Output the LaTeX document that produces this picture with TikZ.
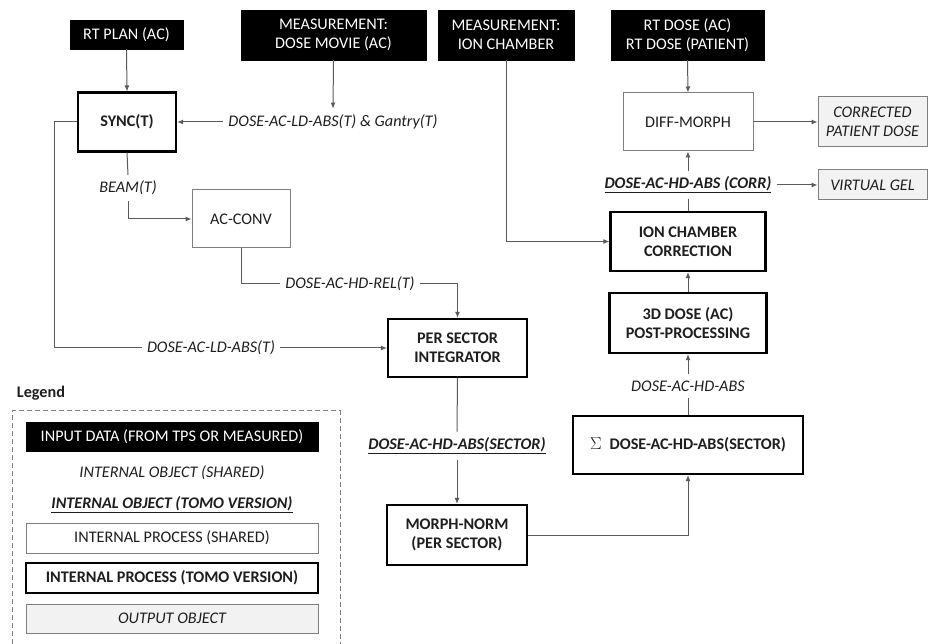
\documentclass[tikz,border=0pt]{standalone}
\usepackage{fontspec}
\setmainfont{Carlito}
\usetikzlibrary{arrows.meta}
\definecolor{txt}{HTML}{1E1E1E}
\definecolor{ln}{HTML}{5A5A5A}
\definecolor{bx}{HTML}{7F7F7F}
\definecolor{outfill}{HTML}{F2F2F2}
\newcommand{\fsz}{\fontsize{16.2}{19}\selectfont}
\tikzset{
  base/.style={font=\fsz, text=txt, align=center, inner sep=0pt},
  inputbox/.style={base, fill=black, draw=black, text=white},
  sharedbox/.style={base, draw=bx, line width=1pt, fill=white},
  tomobox/.style={base, draw=black, line width=2.2pt, fill=white, font=\fsz\bfseries},
  outbox/.style={base, draw=bx, line width=1pt, fill=outfill, font=\fsz\itshape},
  objlab/.style={base, font=\fsz\itshape, inner xsep=5pt, inner ysep=6pt},
  tobjlab/.style={base, font=\fsz\itshape\bfseries, inner xsep=5pt, inner ysep=6pt},
  conn/.style={draw=ln, line width=1pt},
  arr/.style={conn, -{Latex[length=6pt,width=5pt]}},
}
\begin{document}
\begin{tikzpicture}[x=1pt,y=-1pt]
\useasboundingbox (0,0) rectangle (930,644);
% inputs
\node[inputbox, minimum width=113, minimum height=29] (plan) at (126.5,34.5) {RT PLAN (AC)};
\node[inputbox, minimum width=185, minimum height=50] (movie) at (333.5,35) {MEASUREMENT:\\DOSE MOVIE (AC)};
\node[inputbox, minimum width=136, minimum height=50] (ionm) at (506,35) {MEASUREMENT:\\ION CHAMBER};
\node[inputbox, minimum width=153, minimum height=50] (rtdose) at (687.5,35) {RT DOSE (AC)\\RT DOSE (PATIENT)};
% processes
\node[tomobox, minimum width=98, minimum height=59] (sync) at (127,122) {SYNC(T)};
\node[sharedbox, minimum width=98, minimum height=58] (acconv) at (241,219) {AC-CONV};
\node[tomobox, minimum width=139, minimum height=58] (psi) at (457.5,348) {PER SECTOR\\INTEGRATOR};
\node[tomobox, minimum width=140, minimum height=60] (morph) at (457,535) {MORPH-NORM\\(PER SECTOR)};
\node[tomobox, minimum width=230, minimum height=58] (sigma) at (688,445) {$\Sigma$\enspace DOSE-AC-HD-ABS(SECTOR)};
\node[tomobox, minimum width=157, minimum height=60] (post) at (688,323) {3D DOSE (AC)\\POST-PROCESSING};
\node[tomobox, minimum width=155, minimum height=59] (icc) at (688,241.5) {ION CHAMBER\\CORRECTION};
\node[sharedbox, minimum width=130, minimum height=58] (diff) at (688,122) {DIFF-MORPH};
\node[outbox, minimum width=109, minimum height=50] (cpd) at (872.5,122) {CORRECTED\\PATIENT DOSE};
\node[outbox, minimum width=109, minimum height=30] (vgel) at (872.5,185) {VIRTUAL GEL};
% object labels
\node[objlab] (movielab) at (333,122) {DOSE-AC-LD-ABS(T) \& Gantry(T)};
\node[objlab] (beam) at (128,188) {BEAM(T)};
\node[objlab] (hdrel) at (350,284) {DOSE-AC-HD-REL(T)};
\node[objlab] (ldabs) at (211,348) {DOSE-AC-LD-ABS(T)};
\node[tobjlab] (sector) at (457,446) {\underline{DOSE-AC-HD-ABS(SECTOR)}};
\node[objlab] (hdabs) at (688,386) {DOSE-AC-HD-ABS};
\node[tobjlab] (corr) at (688,185) {\underline{DOSE-AC-HD-ABS (CORR)}};
% connectors
\draw[arr] (plan.south) -- (sync.north);
\draw[arr] (movie.south) -- (movielab.north);
\draw[arr] (movielab.west) -- (sync.east);
\draw[conn] (sync.south) -- (beam.north);
\draw[arr] (beam.south) |- (acconv.west);
\coordinate (lft) at (54,122);
\draw[conn] (sync.west) -- (lft) |- (ldabs.west);
\draw[arr] (ldabs.east) -- (psi.west);
\draw[conn] (acconv.south) |- (hdrel.west);
\draw[arr] (hdrel.east) -| (psi.north);
\draw[conn] (psi.south) -- (sector.north);
\draw[arr] (sector.south) -- (morph.north);
\draw[arr] (morph.east) -| (sigma.south);
\draw[conn] (sigma.north) -- (hdabs.south);
\draw[arr] (hdabs.north) -- (post.south);
\draw[arr] (post.north) -- (icc.south);
\draw[arr] (ionm.south) |- (icc.west);
\draw[conn] (icc.north) -- (corr.south);
\draw[arr] (corr.north) -- (diff.south);
\draw[arr] (corr.east) -- (vgel.west);
\draw[arr] (rtdose.south) -- (diff.north);
\draw[arr] (diff.east) -- (cpd.west);
% legend
\node[base, font=\fsz\bfseries] (legt) at (41,393) {Legend};
\draw[draw=bx, line width=1pt, dash pattern=on 5pt off 3pt] (12,644) -- (12,411) -- (340,411) -- (340,644);
\node[inputbox, minimum width=292, minimum height=29] (lin) at (172,436.5) {INPUT DATA (FROM TPS OR MEASURED)};
\node[objlab] (lobj) at (172,473) {INTERNAL OBJECT (SHARED)};
\node[tobjlab] (ltobj) at (172,505) {\underline{INTERNAL OBJECT (TOMO VERSION)}};
\node[sharedbox, minimum width=292, minimum height=30] (lproc) at (172,538) {INTERNAL PROCESS (SHARED)};
\node[tomobox, minimum width=292, minimum height=30] (ltomo) at (172,578) {INTERNAL PROCESS (TOMO VERSION)};
\node[outbox, minimum width=292, minimum height=29] (lout) at (172,618.5) {OUTPUT OBJECT};
\end{tikzpicture}
\end{document}
